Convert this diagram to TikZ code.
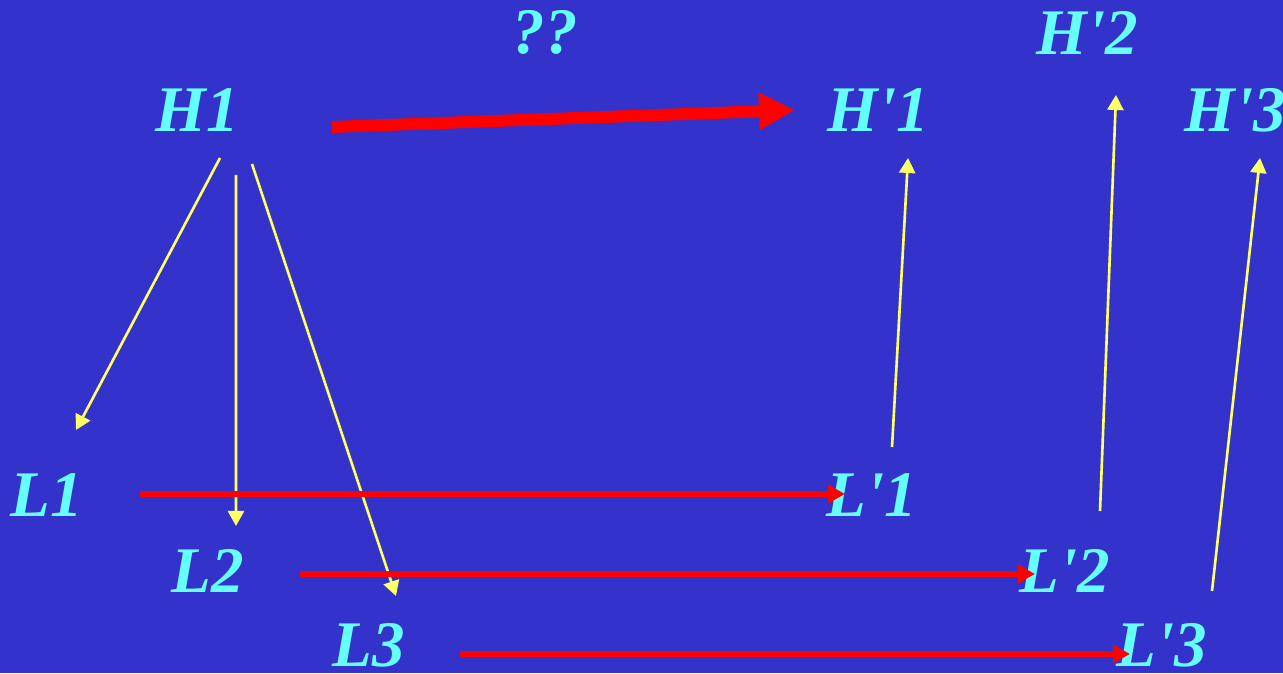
\documentclass[tikz,border=0pt]{standalone}
\usepackage{fontspec}
\setmainfont{Liberation Serif}
\usepackage{tikz}
\usetikzlibrary{arrows.meta}
\definecolor{sblue}{HTML}{3333CC}
\definecolor{scyan}{HTML}{66FFFF}
\definecolor{syellow}{HTML}{FFFF66}
\definecolor{sred}{HTML}{FF0000}
\begin{document}
\begin{tikzpicture}[x=1cm, y=1cm,
  lbl/.style={font=\fontsize{18.5}{22}\selectfont\bfseries\itshape, text=scyan, inner sep=0pt, anchor=base},
  ylink/.style={syellow, line width=0.75pt, -{Triangle[length=1.5mm, width=1.6mm]}},
  rlink/.style={sred, line width=1.7pt, -{Triangle[length=1.7mm, width=1.8mm]}},
  rbig/.style={sred, line width=3.4pt, -{Triangle[length=3.6mm, width=3.5mm]}}]
\useasboundingbox (0,0) rectangle (12.83,6.73);
\fill[sblue] (0,0) rectangle (12.83,6.73);
\node[lbl] (qq) at (5.45,6.19) {??};
\node[lbl] (h1) at (1.97,5.41) {H1};
\node[lbl] (hp1) at (8.78,5.41) {H\textquotesingle 1};
\node[lbl] (hp2) at (10.87,6.18) {H\textquotesingle 2};
\node[lbl] (hp3) at (12.35,5.41) {H\textquotesingle 3};
\node[lbl] (l1) at (0.47,1.56) {L1};
\node[lbl] (l2) at (2.08,0.80) {L2};
\node[lbl] (l3) at (3.69,0.07) {L3};
\node[lbl] (lp1) at (8.72,1.56) {L\textquotesingle 1};
\node[lbl] (lp2) at (10.65,0.80) {L\textquotesingle 2};
\node[lbl] (lp3) at (11.62,0.07) {L\textquotesingle 3};
\draw[rbig] ([xshift=13.5mm, yshift=0.5mm]h1.base) -- ([xshift=-8.3mm, yshift=2.2mm]hp1.base);
\draw[ylink] ([xshift=2.3mm, yshift=-2.6mm]h1.base) -- ([xshift=2.9mm, yshift=8.7mm]l1.base);
\draw[ylink] ([xshift=3.9mm, yshift=-4.3mm]h1.base) -- ([xshift=2.8mm, yshift=6.7mm]l2.base);
\draw[ylink] ([xshift=5.5mm, yshift=-3.2mm]h1.base) -- ([xshift=2.7mm, yshift=7.0mm]l3.base);
\draw[ylink] ([xshift=2.0mm, yshift=7.0mm]lp1.base) -- ([xshift=3.0mm, yshift=-2.6mm]hp1.base);
\draw[ylink] ([xshift=3.5mm, yshift=8.2mm]lp2.base) -- ([xshift=2.9mm, yshift=-4.0mm]hp2.base);
\draw[ylink] ([xshift=5.0mm, yshift=7.5mm]lp3.base) -- ([xshift=2.5mm, yshift=-2.6mm]hp3.base);
\draw[rlink] ([xshift=9.3mm, yshift=2.3mm]l1.base) -- ([xshift=-2.7mm, yshift=2.3mm]lp1.base);
\draw[rlink] ([xshift=9.2mm, yshift=1.9mm]l2.base) -- ([xshift=-3.0mm, yshift=1.9mm]lp2.base);
\draw[rlink] ([xshift=9.1mm, yshift=1.2mm]l3.base) -- ([xshift=-3.2mm, yshift=1.2mm]lp3.base);
\end{tikzpicture}
\end{document}
